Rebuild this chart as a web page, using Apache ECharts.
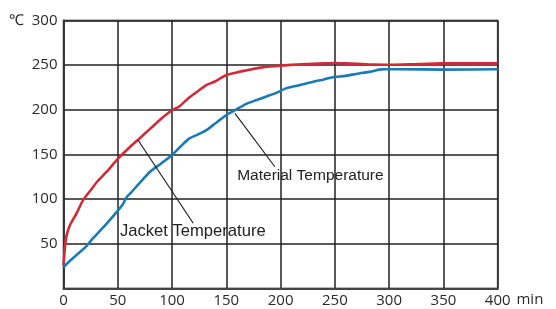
<!DOCTYPE html>
<html>
<head>
<meta charset="utf-8">
<script src="https://cdn.jsdelivr.net/npm/echarts@6/dist/echarts.min.js"></script>
<style>html,body{margin:0;padding:0;background:#fff}#c{width:556px;height:309px}</style>
</head>
<body>
<div id="c"></div>
<script>
// Jacket Temperature (red)
const jacketX = [0, 1.4, 3, 6, 12, 18, 25, 31, 40, 50, 60, 70, 80, 90, 100, 107, 115, 125, 132, 140, 150, 160, 170, 180, 190, 200, 220, 240, 250, 260, 280, 300, 320, 350, 400];
const jacketY = [26, 47, 60, 71, 84, 99, 110, 119.5, 131, 145, 157, 168, 179, 190, 199.5, 204, 213, 222, 228, 232, 239, 242, 244.5, 247, 248.5, 249.5, 251, 252, 252.5, 252, 251, 250.5, 251, 252, 252];
// Material Temperature (blue)
const materialX = [0, 5, 12, 20, 27, 37, 45, 52, 55, 58, 62, 70, 80, 90, 100, 107, 116, 125, 132, 140, 150, 160, 169, 178, 187, 196, 205, 215, 230, 240, 248, 260, 273, 282, 291, 295, 310, 350, 400];
const materialY = [24, 30, 37.5, 46, 56, 69, 80, 90, 95, 102, 107, 118, 131, 140, 149.5, 158, 168, 173, 177.5, 185, 194, 201, 207, 211, 215, 219, 224, 227, 231.5, 234, 236.5, 238, 241, 242.5, 245, 245.5, 245.5, 245, 245.5];
const xTicks = [0, 50, 100, 150, 200, 250, 300, 350, 400];
const yTicks = [0, 50, 100, 150, 200, 250, 300];
const labels = ['Jacket Temperature', 'Material Temperature'];
// leader lines [from, to] in data units, and label anchors
const jacketLeader = [[68.6, 166.2], [119.5, 73]];
const materialLeader = [[157.9, 196.1], [194.7, 136.3]];
const jacketLabelAt = [52, 63.6];
const materialLabelAt = [160, 126.3];

const zip = (xs, ys) => xs.map((x, i) => [x, ys[i]]);
const chart = echarts.init(document.getElementById('c'));
const tickFont = {fontFamily: 'Open Sans', fontSize: 15, color: '#2a2a2a'};
const annFont = {fontFamily: 'Liberation Sans', fontSize: 16, color: '#222'};
function annotation(leader, at, text, size) {
  return {
    markLine: {silent: true, symbol: 'none', animation: false,
      lineStyle: {color: '#222', width: 1.2, type: 'solid'}, label: {show: false},
      data: [[{coord: leader[0]}, {coord: leader[1]}]]},
    markPoint: {silent: true, animation: false, symbol: 'circle', symbolSize: 0,
      label: Object.assign({show: true, position: 'right', distance: 0, formatter: text}, annFont, {fontSize: size}),
      data: [{coord: at}]}
  };
}
chart.setOption({
  animation: false,
  grid: {left: 63.5, right: 58.3, top: 20.5, bottom: 20.5, show: true, borderColor: '#777', borderWidth: 1.8},
  xAxis: {
    type: 'value', min: xTicks[0], max: xTicks[xTicks.length - 1], interval: 50,
    name: 'min', nameLocation: 'end', nameGap: 12,
    nameTextStyle: Object.assign({verticalAlign: 'top', padding: [4, 0, 0, 0]}, tickFont),
    axisLine: {show: true, lineStyle: {color: '#444', width: 2}},
    axisTick: {show: false},
    axisLabel: Object.assign({margin: 5}, tickFont),
    splitLine: {show: true, lineStyle: {color: '#222', width: 1.5}}
  },
  yAxis: {
    type: 'value', min: yTicks[0], max: yTicks[yTicks.length - 1], interval: 50,
    name: '℃', nameLocation: 'end', nameGap: 0,
    nameTextStyle: Object.assign({align: 'right', verticalAlign: 'middle', padding: [0, 40, 0, 0]}, tickFont),
    axisLine: {show: true, lineStyle: {color: '#333', width: 1.5}},
    axisTick: {show: false},
    axisLabel: Object.assign({margin: 6, showMinLabel: false, formatter: v => v === 0 ? '' : String(v)}, tickFont),
    splitLine: {show: true, lineStyle: {color: '#222', width: 1.5}}
  },
  series: [
    Object.assign({
      name: labels[0], type: 'line', data: zip(jacketX, jacketY), showSymbol: false, smooth: 0.2,
      lineStyle: {color: '#d12a38', width: 2.6}, z: 3
    }, annotation(jacketLeader, jacketLabelAt, labels[0], 16.6)),
    Object.assign({
      name: labels[1], type: 'line', data: zip(materialX, materialY), showSymbol: false, smooth: 0.2,
      lineStyle: {color: '#1a7bb4', width: 2.6}, z: 3
    }, annotation(materialLeader, materialLabelAt, labels[1], 15.5))
  ]
});
</script>
</body>
</html>
